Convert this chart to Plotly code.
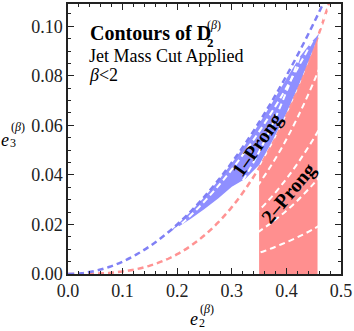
import plotly.graph_objects as go

# curve samples (e2 on x, e3 on y)
e2_pts = [0.0, 0.025, 0.05, 0.075, 0.1, 0.125, 0.15, 0.175, 0.2, 0.225, 0.25,
          0.275, 0.3, 0.325, 0.35, 0.375, 0.4, 0.425, 0.45, 0.475, 0.5]
one_prong_edge = [0.0, 0.00031, 0.00125, 0.00281, 0.005, 0.00781, 0.01125, 0.01531,
                  0.02, 0.02531, 0.03125, 0.03781, 0.045, 0.05281, 0.06125, 0.07031,
                  0.08, 0.09031, 0.10125, 0.11281, 0.125]
two_prong_edge = [0.0, 0.00002, 0.000125, 0.00042, 0.001, 0.00195, 0.00338, 0.00536,
                  0.008, 0.01139, 0.01563, 0.0208, 0.027, 0.03433, 0.04288, 0.05273,
                  0.064, 0.07677, 0.09113, 0.10717, 0.125]

# 1-prong band (with mass cut)
band_e2 = [0.185, 0.2, 0.225, 0.25, 0.275, 0.3, 0.325, 0.35, 0.375, 0.4, 0.425, 0.445, 0.46]
band_top = [0.0170, 0.0199, 0.0252, 0.0311, 0.0376, 0.0447, 0.0524, 0.0607, 0.0695,
            0.0788, 0.0878, 0.0935, 0.0970]
band_bot = [0.0170, 0.0188, 0.0223, 0.0262, 0.0305, 0.0352, 0.0385, 0.0440, 0.0540,
            0.0650, 0.0775, 0.0885, 0.0970]

# 2-prong region (mass cut window)
red_e2 = [0.35, 0.375, 0.4, 0.425, 0.45, 0.457]
red_top = [0.0429, 0.0527, 0.064, 0.0768, 0.0911, 0.0968]

# D2 contours (white dashed)
cont_e2 = [0.3, 0.33, 0.36, 0.39, 0.42, 0.45, 0.48]
cont_02 = [0.0054, 0.0072, 0.0093, 0.0119, 0.0148, 0.0182, 0.0221]
cont_04 = [0.0108, 0.0144, 0.0187, 0.0237, 0.0296, 0.0365, 0.0442]
cont_06 = [0.0162, 0.0216, 0.0280, 0.0356, 0.0445, 0.0547, 0.0664]
cont_085 = [0.0230, 0.0305, 0.0397, 0.0504, 0.0630, 0.0775, 0.0940]
cont_b_e2 = [0.18, 0.21, 0.24, 0.27, 0.3, 0.33, 0.36, 0.39, 0.42, 0.45, 0.48]
cont_115 = [0.0067, 0.0107, 0.0159, 0.0226, 0.0311, 0.0413, 0.0537, 0.0682, 0.0852,
            0.1048, 0.1272]
cont_edge = [0.0152, 0.0207, 0.0270, 0.0342, 0.0422, 0.0511, 0.0608, 0.0714, 0.0829,
             0.0951, 0.1082]

BLUE_FILL = '#8f8fff'
BLUE_LINE = '#8080f5'
RED_FILL = '#ff8f8f'
RED_LINE = '#ff9393'
FONT = 'Liberation Serif'
DASH = '6px,4px'

fig = go.Figure()

fig.add_trace(go.Scatter(
    x=[red_e2[0]] + red_e2 + [red_e2[-1]],
    y=[0] + red_top + [0],
    fill='toself', fillcolor=RED_FILL, mode='none',
    hoverinfo='skip', showlegend=False))

fig.add_trace(go.Scatter(
    x=e2_pts, y=two_prong_edge, mode='lines', line_shape='spline',
    line=dict(color=RED_LINE, width=2.5, dash=DASH),
    hoverinfo='skip', showlegend=False))

fig.add_trace(go.Scatter(
    x=band_e2 + band_e2[::-1],
    y=band_top + band_bot[::-1],
    fill='toself', fillcolor=BLUE_FILL, mode='none',
    hoverinfo='skip', showlegend=False))

for xs, ys in [(cont_e2, cont_02), (cont_e2, cont_04), (cont_e2, cont_06),
               (cont_e2, cont_085), (cont_b_e2, cont_115), (cont_b_e2, cont_edge)]:
    fig.add_trace(go.Scatter(
        x=xs, y=ys, mode='lines', line_shape='spline',
        line=dict(color='white', width=2, dash=DASH),
        hoverinfo='skip', showlegend=False))

fig.add_trace(go.Scatter(
    x=e2_pts, y=one_prong_edge, mode='lines', line_shape='spline',
    line=dict(color=BLUE_LINE, width=2.5, dash=DASH),
    hoverinfo='skip', showlegend=False))

axis_common = dict(
    showline=True, linecolor='#222222', linewidth=1.5, mirror='allticks',
    ticks='inside', ticklen=6, tickwidth=1, tickcolor='#222222',
    showgrid=False, zeroline=False, ticklabeloverflow='allow',
    tickfont=dict(family=FONT, size=18, color='#222222'),
)
fig.update_xaxes(range=[0, 0.5], dtick=0.1, tickformat='.1f',
                 minor=dict(dtick=0.02, ticks='inside', ticklen=3, tickcolor='#222222'),
                 **axis_common)
fig.update_yaxes(range=[0, 0.109], dtick=0.02, tickformat='.2f',
                 minor=dict(dtick=0.005, ticks='inside', ticklen=3, tickcolor='#222222'),
                 **axis_common)

def px(x):
    return (x - 68) / 275

def py(y):
    return (274 - y) / 272

notes = [
    dict(x=px(89), y=py(31), text='<b>Contours of D</b>', size=20, xanchor='left'),
    dict(x=px(207), y=py(41), text='<b>2</b>', size=13, xanchor='left'),
    dict(x=px(207), y=py(23), text='(<i>β</i>)', size=12, xanchor='left'),
    dict(x=px(88), y=py(54), text='Jet Mass Cut Applied', size=18, xanchor='left'),
    dict(x=px(88), y=py(74), text='<i>β</i><2', size=18, xanchor='left'),
    # axis titles
    dict(x=px(5), y=py(139), text='<i>e</i>', size=18, xanchor='center'),
    dict(x=px(13), y=py(142), text='3', size=12, xanchor='center'),
    dict(x=px(18), y=py(126), text='(<i>β</i>)', size=12, xanchor='center'),
    dict(x=px(195), y=py(319), text='<i>e</i>', size=18, xanchor='center'),
    dict(x=px(203), y=py(323), text='2', size=12, xanchor='center'),
    dict(x=px(208), y=py(309), text='(<i>β</i>)', size=12, xanchor='center'),
]
for n in notes:
    fig.add_annotation(x=n['x'], y=n['y'], xref='paper', yref='paper',
                       text=n['text'], showarrow=False, xanchor=n['xanchor'],
                       yanchor='middle', borderpad=0,
                       font=dict(family=FONT, size=n['size'], color='black'))

fig.add_annotation(x=0.347, y=0.0524, text='<b>1–Prong</b>', showarrow=False,
                   textangle=-55, font=dict(family=FONT, size=20, color='black'))
fig.add_annotation(x=0.404, y=0.0324, text='<b>2–Prong</b>', showarrow=False,
                   textangle=-50, font=dict(family=FONT, size=20, color='black'))

fig.update_layout(
    width=354, height=331,
    margin=dict(l=68, r=11, t=2, b=57),
    paper_bgcolor='white', plot_bgcolor='white',
    showlegend=False,
)

fig.write_html("out.html", config={'displayModeBar': False},
               post_script="document.body.style.margin='0px';")
